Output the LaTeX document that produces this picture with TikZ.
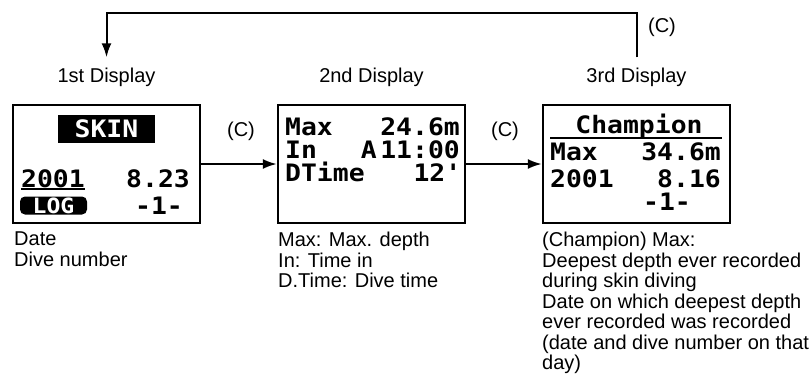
\documentclass[tikz,border=0pt]{standalone}
\usepackage{fontspec}
\setmainfont{Liberation Sans}
\newfontfamily\lcdfont[FakeStretch=1.1]{DejaVu Sans Mono}
\usetikzlibrary{arrows.meta}

\begin{document}
\begin{tikzpicture}[x=1pt,y=-1pt,
  display/.style={draw,line width=2.4pt,minimum width=187pt,minimum height=118pt,inner sep=0pt},
  lcd/.style={inner sep=0pt,font=\fontsize{24}{24}\lcdfont\bfseries},
  inverse/.style={fill=black,text=white,inner sep=0pt},
  title/.style={font=\fontsize{20}{20}\selectfont,inner xsep=0pt,inner ysep=10pt,anchor=base},
  press/.style={font=\fontsize{20}{20}\selectfont,inner sep=0pt,anchor=base},
  caption/.style={font=\fontsize{20}{20.5}\selectfont,align=left,inner sep=0pt,anchor=north west},
  flow/.style={line width=2pt,-{Latex[length=14pt,width=10pt]}}]
\useasboundingbox (0,0) rectangle (812,375);
\node[display] (disp1) at (106.5,164) {};
\node[display] (disp2) at (371.5,164) {};
\node[display] (disp3) at (636.5,164) {};
\node[title] (lab1) at (106.5,82) {1st Display};
\node[title] (lab2) at (371.5,82) {2nd Display};
\node[title] (lab3) at (636.5,82) {3rd Display};
\node[press] (c12) at (241,136) {(C)};
\node[press] (c23) at (505,136) {(C)};
\node[press] (c31) at (662,32) {(C)};
\coordinate (top) at (0,13);
\draw[flow] (disp1) -- (disp2);
\draw[flow] (disp2) -- (disp3);
\draw[flow] (lab3.north) -- (lab3.north |- top) -- (lab1.north |- top) -- (lab1.north);

\node[lcd,inverse,minimum width=97pt,minimum height=28pt] (skin1) at (106.5,129) {SKIN};
\node[lcd,anchor=base west] (year1) at (21,187) {2001};
\draw[line width=2pt] ([yshift=-1.5pt]year1.base west) -- ([yshift=-1.5pt]year1.base east);
\node[lcd,anchor=base east] (date1) at (190,187) {8.23};
\node[inverse,rounded corners=5pt,minimum width=67pt,minimum height=18pt,font=\fontsize{21}{21}\lcdfont\bfseries] (log1) at (53.5,205.5) {LOG};
\node[lcd,anchor=base] (num1) at (159,214) {-1-};

\node[lcd,anchor=base west] (max2) at (285,135) {Max};
\node[lcd,anchor=base east] (depth2) at (460,135) {24.6m};
\node[lcd,anchor=base west] (in2) at (285,158) {In};
\node[lcd,anchor=base east] (am2) at (377,158) {A};
\node[lcd,anchor=base east] (time2) at (460,158) {11:00};
\node[lcd,anchor=base west] (dtime2) at (285,181) {DTime};
\node[lcd,anchor=base east] (dur2) at (460,181) {12\textquotesingle};

\node[lcd,anchor=base] (champ3) at (639,133) {Champion};
\draw[line width=2pt] (550,138) -- (722,138);
\node[lcd,anchor=base west] (max3) at (550,160) {Max};
\node[lcd,anchor=base east] (depth3) at (721,160) {34.6m};
\node[lcd,anchor=base west] (year3) at (550,187) {2001};
\node[lcd,anchor=base east] (date3) at (721,187) {8.16};
\node[lcd,anchor=base] (num3) at (667,210) {-1-};

\node[caption] (note1) at (14,232) {Date\\Dive number};
\node[caption] (note2) at (278,232) {Max: Max. depth\\In: Time in\\D.Time: Dive time};
\node[caption] (note3) at (542,232) {(Champion) Max:\\Deepest depth ever recorded\\during skin diving\\Date on which deepest depth\\ever recorded was recorded\\(date and dive number on that\\day)};
\end{tikzpicture}
\end{document}
